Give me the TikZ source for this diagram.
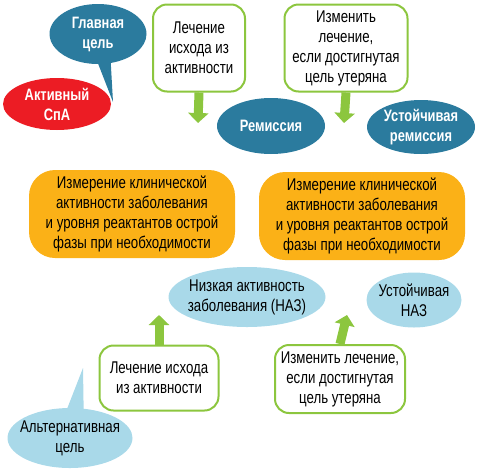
\documentclass[tikz,border=0pt]{standalone}
\usepackage{fontspec}
\setmainfont{Liberation Sans}[FakeStretch=0.78]
\usetikzlibrary{shapes.geometric,shapes.callouts,arrows.meta}

\definecolor{tealblue}{HTML}{2B7B9E}
\definecolor{skyblue}{HTML}{A9D9E9}
\definecolor{leafgreen}{HTML}{8CC63E}
\definecolor{amber}{HTML}{FBB117}
\definecolor{alarmred}{HTML}{EC1C24}

\tikzset{
	treatbox/.style={draw=leafgreen, line width=2pt, fill=white, rounded corners=14pt, align=center, inner sep=2pt},
	measurebox/.style={fill=amber, rounded corners=26pt, align=center, minimum width=206pt, minimum height=88pt, inner sep=0pt},
	goalblob/.style={ellipse, fill=tealblue, inner sep=0pt},
	lowblob/.style={ellipse, fill=skyblue, inner sep=0pt},
	whitetext/.style={text=white, align=center, font=\fontsize{16.5}{20}\selectfont\bfseries},
	fatarrow/.style={draw=leafgreen, line width=9pt, -{Triangle[width=20pt,length=10pt]}}
}

\begin{document}
\begin{tikzpicture}[x=1pt, y=-1pt, font=\fontsize{17}{20}\selectfont]
				\useasboundingbox (0,0) rectangle (478,472);
				% upper row: remission
				\node[ellipse, fill=alarmred, minimum width=108pt, minimum height=52pt, inner sep=0pt,
					label={[whitetext]center:Активный\\СпА}] (A) at (57,104) {};
				\node[ellipse callout, fill=tealblue, minimum width=97pt, minimum height=60pt, inner sep=0pt,
					callout absolute pointer={(113,102)},
					label={[whitetext]center:Главная\\цель}] (G) at (98,34) {};
				\node[treatbox, minimum width=92pt, minimum height=87pt] (L1) at (199,48) {Лечение\\исхода из\\активности};
				\node[treatbox, minimum width=123pt, minimum height=87pt] (I1) at (346,48) {Изменить\\лечение,\\если достигнутая\\цель утеряна};
				\node[goalblob, minimum width=108pt, minimum height=56pt,
					label={[whitetext]center:Ремиссия}] (R) at (271,126) {};
				\node[goalblob, minimum width=108pt, minimum height=54pt,
					label={[whitetext]center:Устойчивая\\ремиссия}] (UR) at (421,127) {};
				\coordinate (R1) at (198,123);
				\coordinate (R2) at (344,123);
				\draw[fatarrow] (L1.south) -- (R1);
				\draw[fatarrow] (I1.south) -- (R2);
				% measurement
				\node[measurebox] (M1) at (132,214) {Измерение клинической\\активности заболевания\\и уровня реактантов острой\\фазы при необходимости};
				\node[measurebox] (M2) at (362,216) {Измерение клинической\\активности заболевания\\и уровня реактантов острой\\фазы при необходимости};
				% lower row: low disease activity
				\node[lowblob, minimum width=157pt, minimum height=60pt,
					label={[align=center]center:Низкая активность\\заболевания (НАЗ)}] (N) at (247,297) {};
				\node[lowblob, minimum width=95pt, minimum height=55pt,
					label={[align=center]center:Устойчивая\\НАЗ}] (UN) at (414,300) {};
				\node[treatbox, minimum width=119pt, minimum height=65pt] (L2) at (159,378) {Лечение исхода\\из активности};
				\node[treatbox, minimum width=130pt, minimum height=68pt] (I2) at (340,379) {Изменить лечение,\\если достигнутая\\цель утеряна};
				\coordinate (N1) at (159,315);
				\coordinate (N2) at (347,315);
				\draw[fatarrow] (L2.north) -- (N1);
				\draw[fatarrow] (I2.north) -- (N2);
				\node[ellipse callout, fill=skyblue, minimum width=125pt, minimum height=60pt, inner sep=0pt,
					callout absolute pointer={(83,368)},
					label={[align=center]center:Альтернативная\\цель}] (AG) at (70,438) {};
			\end{tikzpicture}
\end{document}
